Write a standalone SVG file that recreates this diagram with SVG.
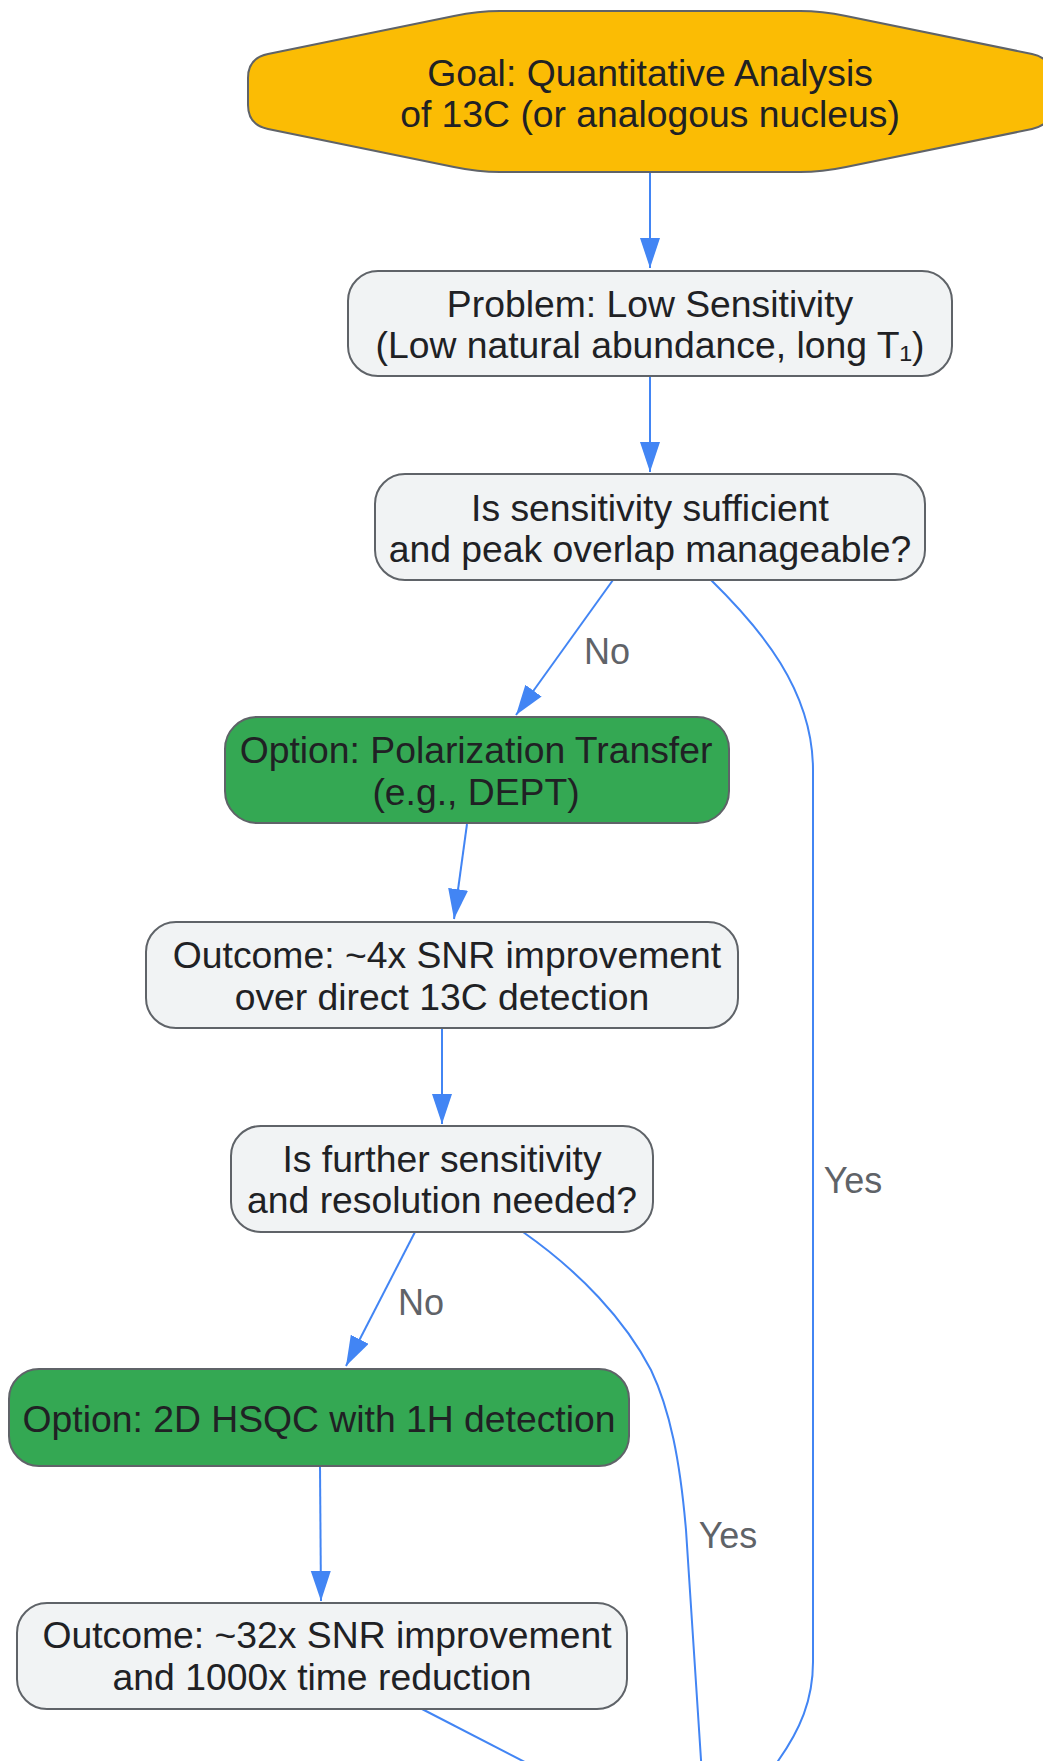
<svg xmlns="http://www.w3.org/2000/svg" width="1043" height="1761" viewBox="0 0 1043 1761">
<defs>
<style>
.box{fill:#F1F3F4;stroke:#5F6368;stroke-width:2}
.green{fill:#34A853;stroke:#5F6368;stroke-width:2}
.goal{fill:#FBBC04;stroke:#5F6368;stroke-width:2}
.t{font-family:"Liberation Sans",Arial,sans-serif;font-size:37.3px;fill:#202124;text-anchor:middle}
.lbl{font-family:"Liberation Sans",Arial,sans-serif;font-size:36px;fill:#5F6368;text-anchor:middle}
.e{fill:none;stroke:#4285F4;stroke-width:2}
</style>
<marker id="arr" markerUnits="userSpaceOnUse" markerWidth="32" markerHeight="22" refX="30" refY="10" orient="auto">
<path d="M0,0 L30,10 L0,20 Z" fill="#4285F4"/>
</marker>
</defs>
<rect width="1043" height="1761" fill="#FFFFFF"/>
<g id="connectors">
<path class="e" d="M650,172 L650,268" marker-end="url(#arr)"/>
<path class="e" d="M650,376 L650,472" marker-end="url(#arr)"/>
<path class="e" d="M613,580 L516,715" marker-end="url(#arr)"/>
<path class="e" d="M711,580 C760,628 813,690 813,770 L813,1662 C813,1700 800,1730 778,1761 L770,1775"/>
<path class="e" d="M467,824 L454,919" marker-end="url(#arr)"/>
<path class="e" d="M442,1028 L442,1124" marker-end="url(#arr)"/>
<path class="e" d="M415,1232 L346,1366" marker-end="url(#arr)"/>
<path class="e" d="M523,1232 C580,1272 625,1320 651,1370 C670,1410 680,1460 686,1530 L702,1775"/>
<path class="e" d="M320,1466 L321,1601" marker-end="url(#arr)"/>
<path class="e" d="M422,1709 L550,1775"/>
<text class="lbl" x="607" y="664">No</text>
<text class="lbl" x="853" y="1193">Yes</text>
<text class="lbl" x="421" y="1315">No</text>
<text class="lbl" x="728" y="1548">Yes</text>
</g>
<g id="goal">
<path class="goal" d="M500,11 L800,11 Q822,11 846,16 L1032,54 Q1052,58 1052,78 L1052,105 Q1052,125 1032,129 L846,167 Q822,172 800,172 L500,172 Q478,172 454,167 L268,129 Q248,125 248,105 L248,78 Q248,58 268,54 L454,16 Q478,11 500,11 Z"/>
<text class="t" x="650" y="85.5">Goal: Quantitative Analysis</text>
<text class="t" x="650" y="127">of 13C (or analogous nucleus)</text>
</g>
<g id="problem">
<rect class="box" x="348" y="271" width="604" height="105" rx="30"/>
<text class="t" x="650" y="317">Problem: Low Sensitivity</text>
<text class="t" x="650" y="358">(Low natural abundance, long T₁)</text>
</g>
<g id="q1">
<rect class="box" x="375" y="474" width="550" height="106" rx="30"/>
<text class="t" x="650" y="521">Is sensitivity sufficient</text>
<text class="t" x="650" y="562">and peak overlap manageable?</text>
</g>
<g id="dept">
<rect class="green" x="225" y="717" width="504" height="106" rx="32"/>
<text class="t" x="476" y="763">Option: Polarization Transfer</text>
<text class="t" x="476" y="805">(e.g., DEPT)</text>
</g>
<g id="outcome1">
<rect class="box" x="146" y="922" width="592" height="106" rx="30"/>
<text class="t" x="447" y="968">Outcome: ~4x SNR improvement</text>
<text class="t" x="442" y="1010">over direct 13C detection</text>
</g>
<g id="q2">
<rect class="box" x="231" y="1126" width="422" height="106" rx="30"/>
<text class="t" x="442" y="1172">Is further sensitivity</text>
<text class="t" x="442" y="1213">and resolution needed?</text>
</g>
<g id="hsqc">
<rect class="green" x="9" y="1369" width="620" height="97" rx="30"/>
<text class="t" x="319" y="1432">Option: 2D HSQC with 1H detection</text>
</g>
<g id="outcome2">
<rect class="box" x="17" y="1603" width="610" height="106" rx="30"/>
<text class="t" x="327" y="1648">Outcome: ~32x SNR improvement</text>
<text class="t" x="322" y="1690">and 1000x time reduction</text>
</g>
</svg>
